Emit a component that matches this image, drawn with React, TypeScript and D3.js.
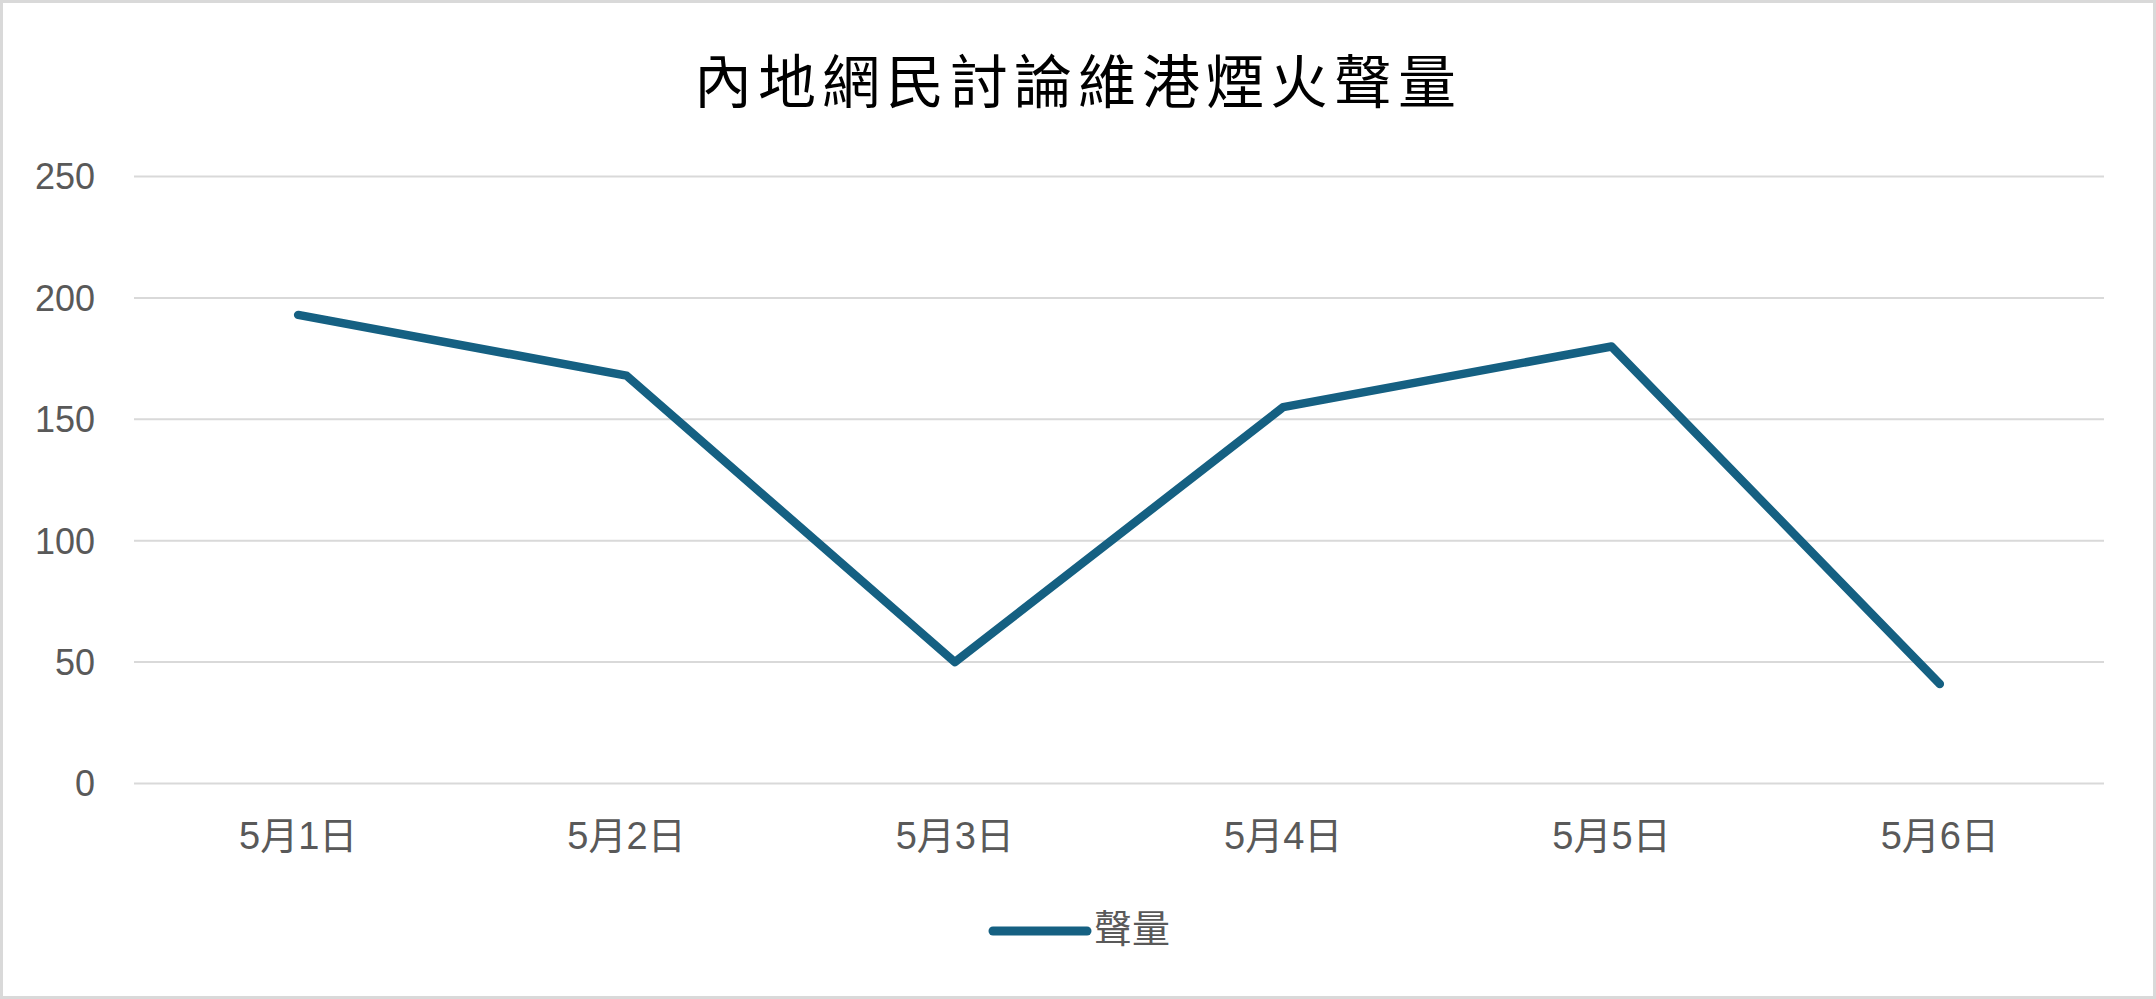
import React from "react";
import * as d3 from "d3";

const title = "內地網民討論維港煙火聲量";
const seriesName = "聲量";
const categories = ["5月1日", "5月2日", "5月3日", "5月4日", "5月5日", "5月6日"];
const values = [193, 168, 50, 155, 180, 41];
const yTicks = [0, 50, 100, 150, 200, 250];

const width = 2156;
const height = 999;
const plot = { left: 134, right: 2104, top: 176.5, bottom: 783.5 };

const lineColor = "#156082";
const gridColor = "#D9D9D9";
const textColor = "#595959";
const sans = "'Liberation Sans', Arial, 'Noto Sans CJK TC', sans-serif";

function App() {
  const xScale = d3
    .scalePoint<string>()
    .domain(categories)
    .range([plot.left, plot.right])
    .padding(0.5);

  const yScale = d3.scaleLinear().domain([0, 250]).range([plot.bottom, plot.top]);

  const line = d3
    .line<number>()
    .x((_, i) => xScale(categories[i]) ?? 0)
    .y(d => yScale(d));

  return (
    <svg
      width={width}
      height={height}
      style={{ position: "absolute", left: 0, top: 0, display: "block", background: "#fff" }}
    >
      <rect x={1.5} y={1.5} width={width - 3} height={height - 3} fill="#fff" stroke={gridColor} strokeWidth={3} />

      <text
        x={width / 2}
        y={103}
        textAnchor="middle"
        fontFamily="DFKai-SB, BiauKai, KaiTi, 'Noto Sans CJK TC', serif"
        fontSize={58}
        letterSpacing={6}
        fill="#000"
      >
        {title}
      </text>

      <g>
        {yTicks.map(t => (
          <g key={t}>
            <line
              x1={plot.left}
              x2={plot.right}
              y1={yScale(t)}
              y2={yScale(t)}
              stroke={gridColor}
              strokeWidth={2}
            />
            <text
              x={95}
              y={yScale(t)}
              dy="0.36em"
              textAnchor="end"
              fontFamily={sans}
              fontSize={36}
              fill={textColor}
            >
              {t}
            </text>
          </g>
        ))}
      </g>

      <g>
        {categories.map(c => (
          <text
            key={c}
            x={xScale(c)}
            y={849}
            textAnchor="middle"
            fontFamily={sans}
            fontSize={38}
            fill={textColor}
          >
            {c}
          </text>
        ))}
      </g>

      <path
        d={line(values) ?? undefined}
        fill="none"
        stroke={lineColor}
        strokeWidth={8.5}
        strokeLinecap="round"
        strokeLinejoin="round"
      />

      <g>
        <line x1={993} x2={1087} y1={931} y2={931} stroke={lineColor} strokeWidth={9} strokeLinecap="round" />
        <text
          x={1094}
          y={929}
          dominantBaseline="central"
          fontFamily={sans}
          fontSize={38}
          fill={textColor}
        >
          {seriesName}
        </text>
      </g>
    </svg>
  );
}

export default App;
